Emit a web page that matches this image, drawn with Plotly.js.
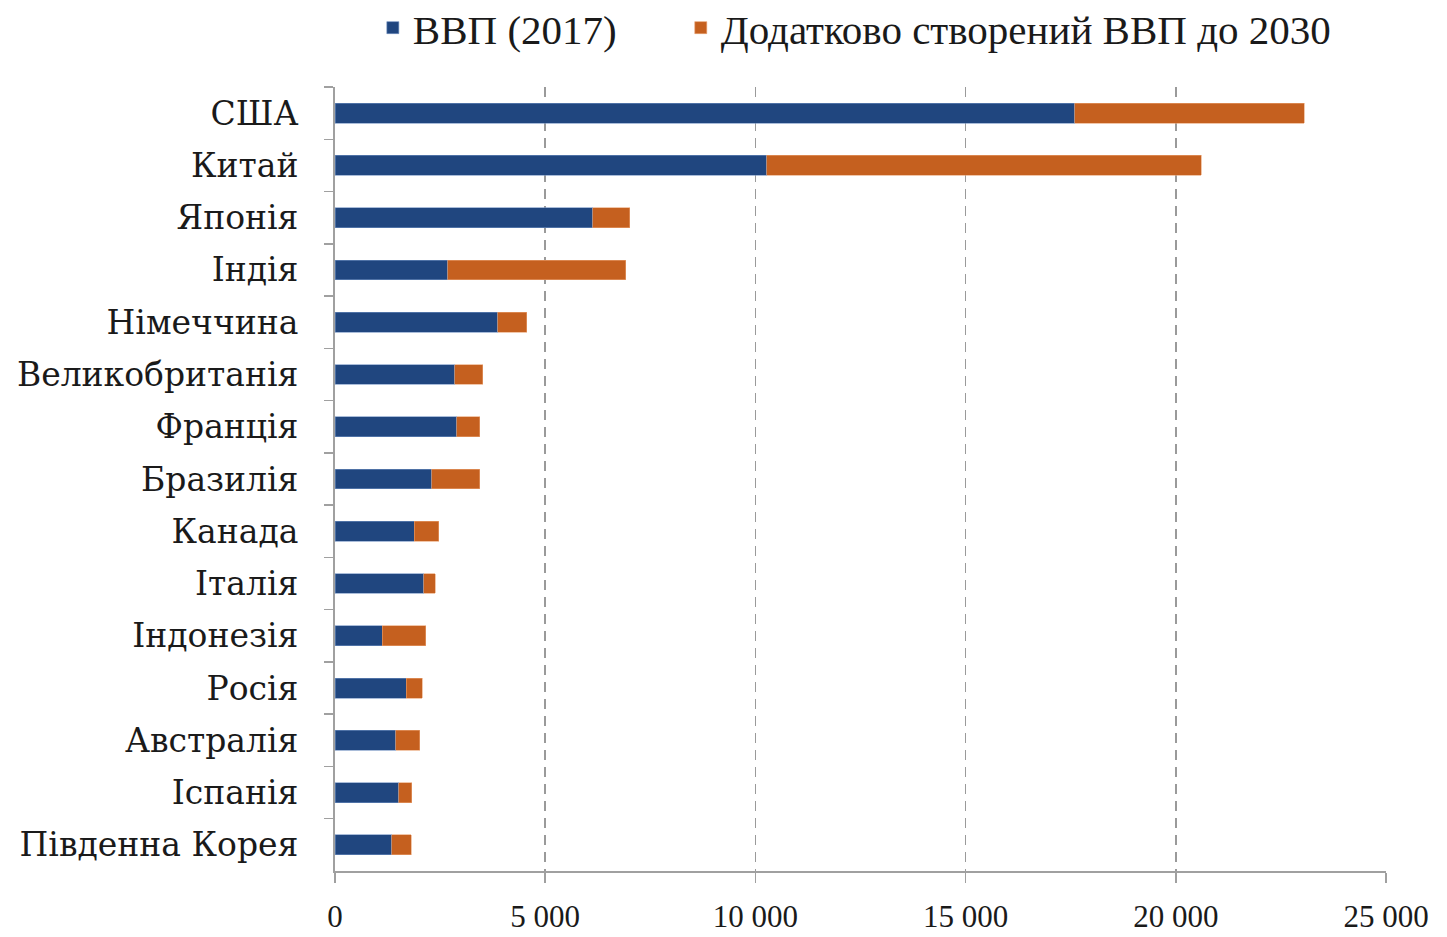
<!DOCTYPE html>
<html>
<head>
<meta charset="utf-8">
<script src="https://cdn.plot.ly/plotly-3.0.1.min.js"></script>
<style>html,body{margin:0;padding:0;background:#fff;}#chart{width:1447px;height:937px;}</style>
</head>
<body>
<div id="chart"></div>
<script>
const countries = ["США","Китай","Японія","Індія","Німеччина","Великобританія","Франція","Бразилія","Канада","Італія","Індонезія","Росія","Австралія","Іспанія","Південна Корея"];
const gdp2017 = [17600,10270,6130,2680,3870,2850,2900,2300,1880,2110,1120,1690,1450,1520,1350];
const gdpAdded2030 = [5460,10330,880,4230,690,670,540,1140,590,270,1040,380,570,310,460];
const seriesNames = ["ВВП (2017)","Додатково створений ВВП до 2030"];
const xTicks = [0,5000,10000,15000,20000,25000];

const serif = "Liberation Serif, DejaVu Serif, serif";
const traces = [
  {type:"bar", orientation:"h", name:seriesNames[0], y:countries, x:gdp2017, legend:"legend",
   marker:{color:"#20467f", line:{color:"#6f8fc0", width:0.6}}},
  {type:"bar", orientation:"h", name:seriesNames[1], y:countries, x:gdpAdded2030, legend:"legend2",
   marker:{color:"#c5601f", line:{color:"#e8a070", width:0.6}}}
];
const legendFont = {size:41, family:serif, color:"#1a1a1a"};
const layout = {
  width:1447, height:937,
  margin:{l:335, r:61, t:87, b:66, autoexpand:false},
  barmode:"stack", bargap:0.62,
  separators:". ",
  paper_bgcolor:"#fff", plot_bgcolor:"#fff",
  font:{family:serif, color:"#1a1a1a"},
  showlegend:true,
  legend:{orientation:"h", x:0.036, xanchor:"left", y:1.118, yanchor:"top", yref:"paper",
          font:legendFont, itemwidth:30, bgcolor:"rgba(0,0,0,0)"},
  legend2:{orientation:"h", x:0.329, xanchor:"left", y:1.118, yanchor:"top", yref:"paper",
          font:legendFont, itemwidth:30, bgcolor:"rgba(0,0,0,0)"},
  xaxis:{range:[0,25000], tickvals:xTicks, separatethousands:true, tickformat:",d",
         showgrid:true, gridcolor:"#9a9a9a", griddash:"10px,7px", gridwidth:1.5,
         zeroline:false, showline:true, linecolor:"#a0a0a0", linewidth:2,
         ticks:"outside", ticklen:10, tickcolor:"#a0a0a0", tickwidth:1.5,
         ticklabelstandoff:7,
         tickfont:{size:31, family:serif, color:"#1a1a1a"}, fixedrange:true},
  yaxis:{autorange:"reversed", type:"category", categoryorder:"array", categoryarray:countries,
         showline:true, linecolor:"#a0a0a0", linewidth:2, showgrid:false, zeroline:false,
         ticks:"outside", tickson:"boundaries", ticklen:9, tickcolor:"#a0a0a0", tickwidth:1.5,
         ticklabelstandoff:28,
         tickfont:{size:33, family:"DejaVu Serif, serif", color:"#1a1a1a"}, fixedrange:true}
};
Plotly.newPlot("chart", traces, layout, {displayModeBar:false, staticPlot:true});
</script>
</body>
</html>
